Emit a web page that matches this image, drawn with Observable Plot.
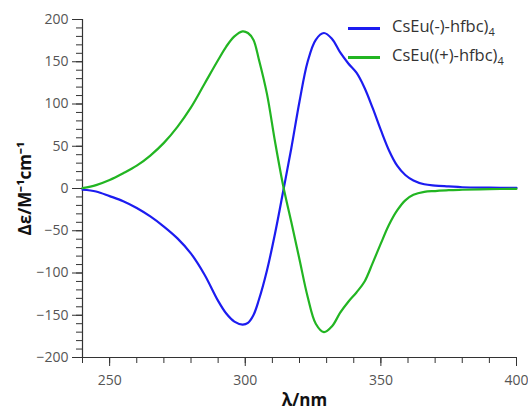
<!DOCTYPE html>
<html>
<head>
<meta charset="utf-8">
<script src="https://cdn.jsdelivr.net/npm/d3@7"></script>
<script src="https://cdn.jsdelivr.net/npm/@observablehq/plot@0.6"></script>
<style>
  html, body { margin: 0; padding: 0; background: #fff; }
  #wrap { position: relative; width: 528px; height: 412px; }
  .legend { position: absolute; left: 348px; top: 14px; font-family: "Open Sans", sans-serif; font-size: 16.5px; color: #333; line-height: 23px; }
  .legend .row { display: flex; align-items: center; white-space: nowrap; }
  .legend .sw { display: inline-block; width: 32px; height: 2.5px; margin-right: 12px; }
  .legend sub { font-size: 11px; vertical-align: -4px; }
</style>
</head>
<body>
<div id="wrap"></div>
<script>
const wavelength = [240, 245, 250, 255, 260, 265, 270, 275, 280, 285, 290, 293, 296, 299, 301, 303, 305, 308, 311, 314, 317, 320, 323, 326, 329, 332, 335, 338, 341, 344, 347, 350, 353, 356, 359, 362, 366, 370, 375, 380, 390, 400];
const minusSeries = [-1.5, -3.5, -9, -15, -23, -33, -45, -59, -77, -102, -133, -148, -157.5, -161, -159, -150, -132, -97, -53, -3, 48, 103, 150, 176, 184, 177, 161, 148, 137, 119, 95, 69, 45, 27, 16, 9.5, 5, 3.5, 2.5, 1.5, 1, 0.8];
const plusSeries = [0.5, 4, 10, 18, 27, 39, 54, 73, 96, 124, 152, 168, 180, 186, 184, 176, 153, 112, 55, 3, -40, -84, -128, -160, -170, -163, -147, -134, -123, -110, -88, -65, -43, -26, -14, -7.5, -4, -3, -2, -1.5, -0.8, -0.4];
const seriesNames = ["CsEu(-)-hfbc)", "CsEu((+)-hfbc)"];
const seriesColors = ["#1c1cf0", "#22b522"];
const xMajor = [250, 300, 350, 400];
const xMinor = d3.range(240, 401, 10);
const yMajor = d3.range(-200, 201, 50);
const yMinor = d3.range(-200, 201, 10);
const xLabel = "λ/nm";
const yLabel = "Δε/M⁻¹cm⁻¹";

const data = [];
wavelength.forEach((w, i) => {
  data.push({w, v: minusSeries[i], s: seriesNames[0]});
  data.push({w, v: plusSeries[i], s: seriesNames[1]});
});

const chart = Plot.plot({
  width: 528,
  height: 412,
  marginLeft: 82,
  marginRight: 12,
  marginTop: 19,
  marginBottom: 55,
  style: { fontFamily: "Open Sans", fontSize: "14px", background: "#fff" },
  x: { domain: [240, 400] },
  y: { domain: [-200, 200] },
  color: { domain: seriesNames, range: seriesColors },
  marks: [
    Plot.axisX(xMinor, { tickSize: 6, tickFormat: () => "", stroke: "#333", label: null }),
    Plot.axisX(xMajor, { tickSize: 9, tickPadding: 9, fill: "#555", stroke: "#333", label: null }),
    Plot.axisY(yMinor, { tickSize: 6, tickFormat: () => "", stroke: "#333", label: null }),
    Plot.axisY(yMajor, { tickSize: 10, tickPadding: 4, fill: "#555", stroke: "#333", label: null }),
    Plot.ruleX([240], { stroke: "#333", strokeWidth: 1.2 }),
    Plot.ruleY([-200], { stroke: "#333", strokeWidth: 1.2 }),
    Plot.line(data, { x: "w", y: "v", z: "s", stroke: "s", strokeWidth: 2.2, curve: "catmull-rom" }),
    Plot.text([xLabel], { frameAnchor: "bottom", lineAnchor: "bottom", dy: 48, dx: 5, fontWeight: "bold", fontSize: 17, fill: "#111" }),
    Plot.text([yLabel], { frameAnchor: "left", textAnchor: "middle", lineAnchor: "middle", dx: -57, rotate: -90, fontWeight: "bold", fontSize: 17, fill: "#111" })
  ]
});

const wrap = document.getElementById("wrap");
wrap.appendChild(chart);
const legend = document.createElement("div");
legend.className = "legend";
legend.innerHTML = seriesNames.map((n, i) =>
  `<div class="row"><span class="sw" style="background:${seriesColors[i]}"></span><span>${n}<sub>4</sub></span></div>`).join("");
wrap.appendChild(legend);
</script>
</body>
</html>
